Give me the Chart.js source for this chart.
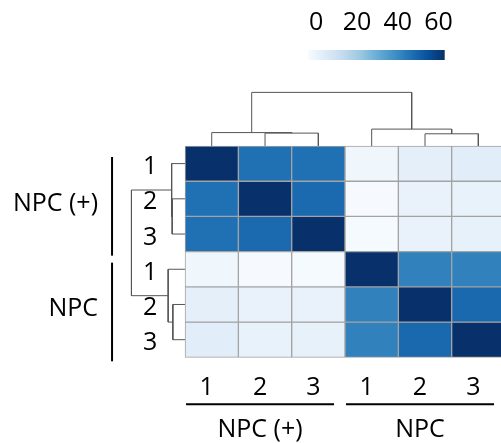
<!DOCTYPE html>
<html>
<head>
<meta charset="utf-8">
<script src="https://cdn.jsdelivr.net/npm/chart.js@4.4.1/dist/chart.umd.min.js"></script>
<style>
html, body { margin: 0; padding: 0; background: #fff; overflow: hidden; }
#wrap { position: relative; width: 501px; height: 443px; }
#heatmap { position: absolute; left: 0; top: 0; }
#colorbar { position: absolute; left: 288px; top: 0; }
</style>
</head>
<body>
<div id="wrap">
  <canvas id="heatmap" width="501" height="443"></canvas>
  <canvas id="colorbar" width="190" height="70"></canvas>
</div>
<script>
// sample replicates, rows and columns in the same (clustered) order
const rowLabels = ['1', '2', '3', '1', '2', '3'];
const colLabels = ['1', '2', '3', '1', '2', '3'];
const groupNames = ['NPC (+)', 'NPC'];
const groupSizes = [3, 3];

// one row of the matrix per sample
const npcPlus1 = [63, 46.5, 46.5, -1.2, 2.5, 3.4];
const npcPlus2 = [46.5, 63, 48.3, -3.6, 0.6, 0.9];
const npcPlus3 = [46.5, 48.3, 63, -3.3, 0.7, 1.4];
const npc1 = [-1.2, -3.6, -3.3, 63, 42.2, 42.2];
const npc2 = [2.5, 0.6, 0.7, 42.2, 63, 48.5];
const npc3 = [3.4, 0.9, 1.4, 42.2, 48.5, 63];
const matrix = [npcPlus1, npcPlus2, npcPlus3, npc1, npc2, npc3];

// linkage: [left, right, height]; ids >= 6 are earlier merges
const merges = [
  [1, 2, 0.96],
  [0, 6, 1.0],
  [4, 5, 0.91],
  [3, 8, 1.26],
  [7, 9, 4.0]
];

// colour scale
const cMin = -4;
const cMax = 63;
const colorTicks = [0, 20, 40, 60];
const blues = ['#f7fbff', '#deebf7', '#c6dbef', '#9ecae1', '#6baed6', '#4292c6', '#2171b5', '#08519c', '#08306b'];

function hexToRgb(h) {
  return [1, 3, 5].map(i => parseInt(h.substr(i, 2), 16));
}

function colorFor(v) {
  let t = (v - cMin) / (cMax - cMin);
  t = Math.max(0, Math.min(1, t)) * (blues.length - 1);
  const i = Math.min(Math.floor(t), blues.length - 2);
  const f = t - i;
  const a = hexToRgb(blues[i]), b = hexToRgb(blues[i + 1]);
  const c = a.map((x, k) => Math.round(x + (b[k] - x) * f));
  return 'rgb(' + c.join(',') + ')';
}

// axis ranges of the main canvas (heatmap cells are 1 x 1 units)
const xMin = -3.47, xMax = 5.925;
const yMin = -4.145, yMax = 8.433;
const dendroPx = 13.4; // pixels per unit of linkage height
const TOP_K = dendroPx / (443 / (yMax - yMin));
const LEFT_K = dendroPx / (501 / (xMax - xMin));

function dendroSegments(list, n) {
  const pos = [], ht = [];
  for (let i = 0; i < n; i++) { pos[i] = i + 0.5; ht[i] = 0; }
  return list.map(([a, b, h], k) => {
    const id = n + k;
    pos[id] = (pos[a] + pos[b]) / 2;
    ht[id] = h;
    return [[pos[a], ht[a]], [pos[a], h], [pos[b], h], [pos[b], ht[b]]];
  });
}

const cellSets = matrix.map((row, i) => ({
  type: 'bar',
  data: row.map((v, j) => ({ x: j + 0.5, y: [i, i + 1] })),
  backgroundColor: row.map(colorFor),
  borderColor: '#a3a3a3',
  borderWidth: 1,
  borderSkipped: false,
  barPercentage: 1,
  categoryPercentage: 1,
  grouped: false
}));

const lineStyle = {
  type: 'line',
  borderColor: '#555',
  borderWidth: 1,
  pointRadius: 0,
  fill: false
};

const segs = dendroSegments(merges, matrix.length);
const topTree = segs.map(s => Object.assign({}, lineStyle, {
  data: s.map(([p, h]) => ({ x: p, y: -h * TOP_K }))
}));
const leftTree = segs.map(s => Object.assign({}, lineStyle, {
  data: s.map(([p, h]) => ({ x: -h * LEFT_K, y: p }))
}));

// numbers, group names and brackets around the heatmap
const labelPlugin = {
  id: 'heatLabels',
  afterDatasetsDraw(chart) {
    const { ctx, scales: { x, y } } = chart;
    const left = x.getPixelForValue(0);
    const bottom = y.getPixelForValue(matrix.length);
    ctx.save();
    ctx.fillStyle = '#000';
    ctx.strokeStyle = '#000';
    ctx.lineWidth = 2;
    ctx.font = '25px "Open Sans"';
    ctx.textBaseline = 'alphabetic';
    ctx.textAlign = 'center';
    rowLabels.forEach((t, i) => ctx.fillText(t, left - 35, y.getPixelForValue(i + 0.5) + 10.5));
    colLabels.forEach((t, j) => ctx.fillText(t, x.getPixelForValue(j + 0.5) - 5, bottom + 37.7));

    let start = 0;
    groupNames.forEach((name, g) => {
      const end = start + groupSizes[g];
      const mid = (start + end) / 2;

      const cx = x.getPixelForValue(mid) - 5;
      ctx.textAlign = 'center';
      ctx.fillText(name, cx, bottom + 79.4);
      ctx.beginPath();
      ctx.moveTo(cx - 74, bottom + 47);
      ctx.lineTo(cx + 74, bottom + 47);
      ctx.stroke();

      const cy = y.getPixelForValue(mid);
      ctx.textAlign = 'right';
      ctx.fillText(name, left - 87, cy + 11.8);
      ctx.beginPath();
      ctx.moveTo(left - 73, y.getPixelForValue(start) + 11);
      ctx.lineTo(left - 73, y.getPixelForValue(end) + 4);
      ctx.stroke();
      start = end;
    });
    ctx.restore();
  }
};

new Chart(document.getElementById('heatmap'), {
  type: 'bar',
  data: { datasets: [...cellSets, ...topTree, ...leftTree] },
  options: {
    responsive: false,
    animation: false,
    events: [],
    layout: { padding: 0 },
    plugins: { legend: { display: false }, tooltip: { enabled: false } },
    scales: {
      x: {
        type: 'linear', min: xMin, max: xMax, offset: false, display: false,
        // one tick per column keeps the bar width at exactly one unit
        afterBuildTicks(axis) { axis.ticks = colLabels.map((_, j) => ({ value: j })); }
      },
      y: { type: 'linear', min: yMin, max: yMax, reverse: true, display: false }
    }
  },
  plugins: [labelPlugin]
});

// colour key
new Chart(document.getElementById('colorbar'), {
  type: 'bar',
  data: {
    labels: ['key'],
    datasets: [{
      data: [[cMin, cMax]],
      borderWidth: 0,
      barPercentage: 1,
      categoryPercentage: 1,
      backgroundColor(c) {
        const chart = c.chart;
        if (!chart.chartArea) return blues[4];
        const xs = chart.scales.x;
        const g = chart.ctx.createLinearGradient(xs.getPixelForValue(cMin), 0, xs.getPixelForValue(cMax), 0);
        blues.forEach((col, i) => g.addColorStop(i / (blues.length - 1), col));
        return g;
      }
    }]
  },
  options: {
    indexAxis: 'y',
    responsive: false,
    animation: false,
    events: [],
    layout: { padding: { left: 20, right: 33.3, top: 7.4, bottom: 10 } },
    plugins: { legend: { display: false }, tooltip: { enabled: false } },
    scales: {
      x: {
        type: 'linear',
        position: 'top',
        min: cMin,
        max: cMax,
        grid: { display: false, drawTicks: false },
        border: { display: false },
        afterBuildTicks(axis) { axis.ticks = colorTicks.map(v => ({ value: v })); },
        afterFit(axis) { axis.height = 42.6; },
        ticks: {
          color: '#000',
          padding: 12.6,
          maxRotation: 0,
          autoSkip: false,
          font: { family: 'Open Sans', size: 25 }
        }
      },
      y: { display: false }
    }
  }
});
</script>
</body>
</html>
